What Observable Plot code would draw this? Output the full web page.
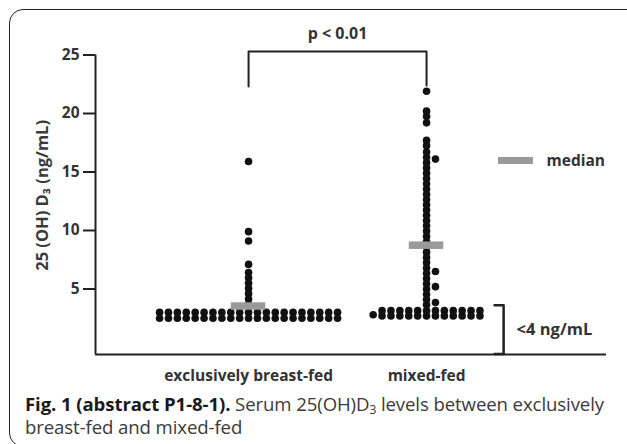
<!DOCTYPE html>
<html><head><meta charset="utf-8">
<script src="https://cdn.jsdelivr.net/npm/d3@7"></script>
<script src="https://cdn.jsdelivr.net/npm/@observablehq/plot@0.6"></script>
<style>
body{margin:0;background:#fff;width:627px;height:444px;overflow:hidden;position:relative;font-family:"Open Sans",sans-serif;}
#frame{position:absolute;left:9px;top:9px;width:640px;height:438px;border:1.6px solid #222;border-radius:14px;box-sizing:border-box;}
#chart{position:absolute;left:0;top:0;}
#caption{position:absolute;left:25px;top:392px;font-size:18.6px;line-height:23px;color:#3a3a3a;white-space:nowrap;letter-spacing:-0.1px;}
#caption b{color:#1a1a1a;}
#caption sub{font-size:12px;vertical-align:-3px;line-height:0;}
</style></head><body>
<div id="frame"></div>
<div id="chart"></div>
<div id="caption"><b>Fig. 1 (abstract P1-8-1).</b> Serum 25(OH)D<sub>3</sub> levels between exclusively<br>breast-fed and mixed-fed</div>
<script>
// ---- data ----
const groups = ["exclusively breast-fed", "mixed-fed"];
const yTicks = [5, 10, 15, 20, 25];
// detected values (ng/mL)
const breastFedDetected = [15.9, 9.9, 9.1, 7.1, 6.4, 5.95, 5.5, 5.05, 4.6, 4.15, 3.7];
const mixedFedDetected = [21.9, 20.2, 19.75, 19.2, 17.7, 17.25, 16.7, 16.25, 16.1, 15.8, 15.35, 14.9, 14.45, 14.0, 13.55, 13.1, 12.65, 12.2, 11.75, 11.3, 10.85, 10.4, 9.95, 9.5, 9.05, 8.6, 8.15, 7.7, 7.25, 6.8, 6.5, 6.35, 5.9, 5.45, 5.2, 5.0, 4.55, 4.1, 3.85, 3.65];
// values below the detection limit (<4 ng/mL), drawn as the bottom row
const breastFedUndetected = [3.0,2.5, 3.0,2.5, 3.0,2.5, 3.0,2.5, 3.0,2.5, 3.0,2.5, 3.0,2.5, 3.0,2.5, 3.0,2.5, 3.0,2.5, 3.0,2.5,
  3.0,2.5, 3.0,2.5, 3.0,2.5, 3.0,2.5, 3.0,2.5, 3.0,2.5, 3.0,2.5, 3.0,2.5, 3.0,2.5, 3.0,2.5];
const mixedFedUndetected = [3.15,2.7, 3.15,2.7, 3.15,2.7, 3.15,2.7, 3.15,2.7, 3.15,2.7, 3.15,2.7, 3.15,2.7, 3.15,2.7, 3.15,2.7, 3.15,2.7, 3.15,2.7, 2.8];
const medians = [3.5, 8.7];
// annotations
const bracketX = [0, 0, 1, 1];
const bracketY = [22.3, 25.3, 25.3, 22.4];
const pLabel = "p < 0.01";
const lodBraceX = [1.382, 1.433, 1.433, 1.382];
const lodBraceY = [3.6, 3.6, -0.55, -0.55];
const lodLabel = "<4 ng/mL";
const legendLabel = "median";

// ---- layout ----
const xMin = -0.86, xMax = 2.011, yMin = -0.6, yMax = 25;
const slotStep = 0.05, minGap = 0.38;
function swarm(values, center) {
  const sorted = values.slice().sort((a, b) => b - a);
  const slots = new Map();
  const out = [];
  for (const v of sorted) {
    for (let k = 0; ; k++) {
      const s = k === 0 ? 0 : (k % 2 ? (k + 1) / 2 : -k / 2);
      const arr = slots.get(s) || [];
      if (arr.every(u => Math.abs(u - v) >= minGap)) {
        arr.push(v); slots.set(s, arr);
        out.push({x: center + s * slotStep, y: v});
        break;
      }
    }
  }
  return out;
}
const dots = [
  ...swarm(breastFedDetected.concat(breastFedUndetected), 0),
  ...swarm(mixedFedDetected.concat(mixedFedUndetected), 1)
];
const medianData = medians.map((m, i) => ({g: i, m}));
const bracket = bracketX.map((x, i) => ({x, y: bracketY[i]}));
const lodBrace = lodBraceX.map((x, i) => ({x, y: lodBraceY[i]}));
const ink = "#222";
const fs = 15.5;

const chart = Plot.plot({
  width: 627, height: 392,
  marginLeft: 95, marginRight: 21, marginTop: 54.5, marginBottom: 38,
  x: {domain: [xMin, xMax]},
  y: {domain: [yMin, yMax]},
  style: {fontFamily: "'Open Sans', sans-serif", fontWeight: "bold", fontSize: fs + "px", color: "#333", background: "transparent"},
  marks: [
    Plot.axisY({ticks: yTicks, tickSize: 12, tickPadding: 4, strokeWidth: 2, stroke: ink, label: null, fontSize: fs}),
    Plot.axisX({ticks: [0, 1], tickFormat: i => groups[i], tickSize: 0, tickPadding: 15, label: null, fontSize: fs}),
    Plot.ruleX([xMin], {y1: yMin, y2: yMax, stroke: ink, strokeWidth: 2}),
    Plot.ruleY([yMin], {stroke: ink, strokeWidth: 2}),
    Plot.text(["25 (OH) D\u2083 (ng/mL)"], {x: xMin - 0.295, y: 13.0, rotate: -90, fontSize: 16.5, fill: "#3a3a3a"}),
    Plot.dot(dots, {x: "x", y: "y", r: 3.8, fill: "#111"}),
    Plot.rect(medianData, {x1: d => d.g - 0.097, x2: d => d.g + 0.097, y1: d => d.m - 0.32, y2: d => d.m + 0.32, fill: "#9a9a9a"}),
    Plot.line(bracket, {x: "x", y: "y", stroke: ink, strokeWidth: 2}),
    Plot.text([pLabel], {x: 0.5, y: 26.8, fontSize: 16, fill: "#333"}),
    Plot.line(lodBrace, {x: "x", y: "y", stroke: ink, strokeWidth: 2.5}),
    Plot.text([lodLabel], {x: 1.506, y: 1.54, textAnchor: "start", fontSize: 16.5, fill: "#333"}),
    Plot.rect([0], {x1: 1.404, x2: 1.601, y1: 15.64, y2: 16.24, fill: "#9a9a9a"}),
    Plot.text([legendLabel], {x: 1.674, y: 15.92, textAnchor: "start", fontSize: fs, fill: "#333"})
  ]
});
document.getElementById("chart").appendChild(chart);
</script>
</body></html>
